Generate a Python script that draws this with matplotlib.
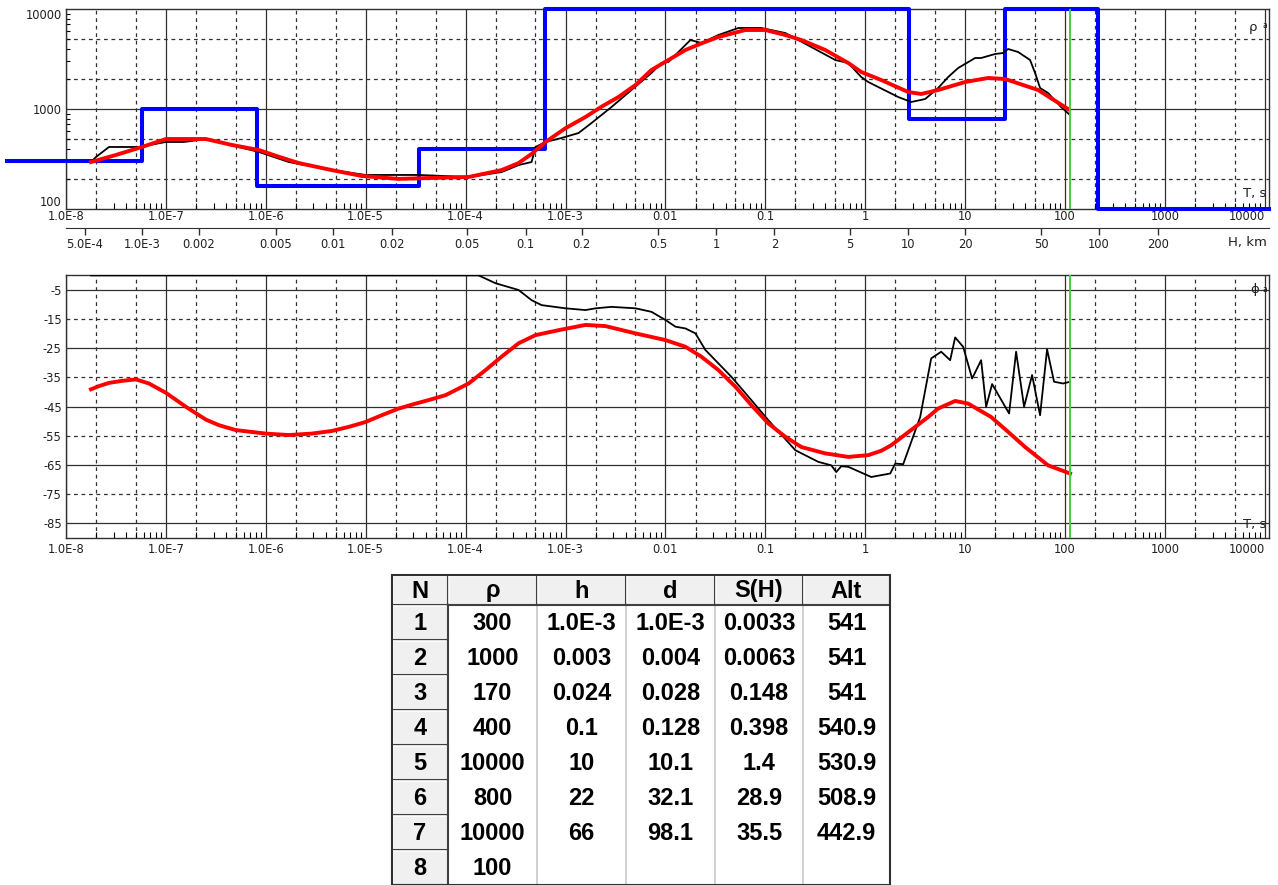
import numpy as np
import matplotlib.pyplot as plt
from matplotlib.patches import Rectangle
from matplotlib.ticker import LogLocator, NullFormatter, FixedLocator

# ---- layered model (table) ----
col_names = ['N', 'ρ', 'h', 'd', 'S(H)', 'Alt']
layer_n = ['1', '2', '3', '4', '5', '6', '7', '8']
layer_rho = ['300', '1000', '170', '400', '10000', '800', '10000', '100']
layer_h = ['1.0E-3', '0.003', '0.024', '0.1', '10', '22', '66', '']
layer_d = ['1.0E-3', '0.004', '0.028', '0.128', '10.1', '32.1', '98.1', '']
layer_s = ['0.0033', '0.0063', '0.148', '0.398', '1.4', '28.9', '35.5', '']
layer_alt = ['541', '541', '541', '540.9', '530.9', '508.9', '442.9', '']

# layer boundaries as they sit on the period axis (s)
bound_T = [5.75e-8, 8.1e-7, 3.4e-5, 6.3e-4, 2.75, 25.1, 214]
model_T_start = 10 ** -8.59
model_T_end = 1.1e4

# ---- apparent resistivity, observed (black) ----
obs_lgT = [-7.75, -7.70, -7.57, -7.27, -7.00, -6.82, -6.60, -6.07, -5.77, -5.34,
           -5.00, -4.47, -3.97, -3.64, -3.47, -3.34, -3.30, -3.20, -3.04, -2.87,
           -2.74, -2.54, -2.34, -2.14, -2.04, -1.97, -1.80, -1.75, -1.64, -1.47,
           -1.27, -1.04, -0.80, -0.30, -0.17, -0.04, 0.03, 0.33, 0.46, 0.60,
           0.73, 0.83, 0.93, 1.10, 1.16, 1.30, 1.38, 1.43, 1.53, 1.65,
           1.70, 1.75, 1.83, 1.96, 2.05]
obs_rho = [295, 331, 417, 417, 468, 468, 501, 372, 295, 245,
           219, 219, 209, 234, 275, 295, 417, 468, 513, 575,
           724, 1047, 1549, 2291, 2884, 2951, 4365, 4898, 4571, 5495,
           6457, 6457, 5754, 3090, 2884, 2089, 1862, 1318, 1175, 1259,
           1622, 2089, 2570, 3236, 3236, 3548, 3631, 3981, 3715, 3090,
           2291, 1622, 1445, 1047, 871]

# ---- apparent resistivity, model response (red) ----
fit_lgT = [-7.75, -7.50, -7.24, -7.00, -6.60, -6.34, -6.07, -5.87, -5.67, -5.34,
           -5.04, -4.67, -4.37, -3.97, -3.64, -3.47, -3.34, -3.20, -3.00, -2.80,
           -2.64, -2.47, -2.30, -2.14, -1.97, -1.80, -1.63, -1.47, -1.20, -1.00,
           -0.80, -0.64, -0.40, -0.17, -0.04, 0.16, 0.43, 0.56, 0.73, 1.00,
           1.23, 1.40, 1.73, 2.03]
fit_rho = [295, 347, 417, 501, 501, 437, 389, 333, 288, 245,
           214, 200, 204, 209, 245, 288, 355, 468, 643, 832,
           1054, 1318, 1738, 2455, 3090, 3890, 4571, 5248, 6166, 6166,
           5495, 4898, 3890, 2884, 2344, 1950, 1479, 1413, 1549, 1862,
           2042, 1995, 1549, 1000]

# ---- phase ----
obs_ph_lgT = [-7.75, -3.87, -3.70, -3.47, -3.34, -3.24, -3.00, -2.80, -2.70, -2.54,
              -2.30, -2.14, -2.00, -1.90, -1.80, -1.70, -1.60, -1.34, -1.14, -0.97,
              -0.70, -0.47, -0.34, -0.29, -0.24, -0.17, 0.06, 0.25, 0.30, 0.38,
              0.55, 0.66, 0.76, 0.85, 0.90, 0.98, 1.07, 1.16, 1.21, 1.27,
              1.44, 1.51, 1.59, 1.67, 1.75, 1.82, 1.89, 1.98, 2.05]
obs_phase = [0, 0, -2.7, -5.0, -8.5, -10.2, -11.3, -11.9, -11.3, -10.8,
             -11.3, -12.5, -15.3, -17.6, -18.2, -19.9, -25.6, -34.8, -42.8, -49.7,
             -60.0, -64.0, -65.2, -67.5, -65.5, -65.7, -69.2, -68.0, -64.6, -64.8,
             -48.6, -28.5, -26.2, -29.1, -21.3, -24.5, -35.4, -29.1, -45.1, -37.3,
             -47.4, -26.2, -45.1, -34.2, -48.0, -25.4, -36.5, -37.1, -36.5]
fit_ph_lgT = [-7.75, -7.67, -7.57, -7.44, -7.30, -7.17, -7.00, -6.80, -6.60, -6.47,
              -6.30, -6.00, -5.77, -5.54, -5.34, -5.17, -5.00, -4.84, -4.67, -4.50,
              -4.37, -4.20, -3.97, -3.80, -3.64, -3.47, -3.30, -3.07, -2.80, -2.60,
              -2.30, -2.00, -1.80, -1.64, -1.47, -1.30, -1.14, -0.97, -0.80, -0.64,
              -0.40, -0.17, 0.03, 0.16, 0.26, 0.50, 0.63, 0.73, 0.90, 1.03,
              1.26, 1.43, 1.60, 1.83, 2.05]
fit_phase = [-39.1, -38.0, -36.9, -36.2, -35.7, -37.1, -40.3, -45.1, -49.5, -51.4,
             -53.1, -54.3, -54.8, -54.3, -53.4, -52.0, -50.3, -48.0, -45.7, -44.0,
             -42.8, -41.1, -37.1, -32.5, -27.9, -23.3, -20.5, -18.8, -17.0, -17.4,
             -19.9, -22.2, -24.5, -27.9, -32.5, -38.2, -44.5, -50.8, -55.4, -58.9,
             -61.1, -62.3, -61.7, -60.2, -58.3, -52.0, -48.6, -45.7, -43.1, -44.0,
             -48.6, -53.7, -58.9, -65.2, -68.0]

marker_T = 112

# ---- axis labels ----
period_ticks = [10.0 ** e for e in range(-8, 5)]
period_labels = ['1.0E-8', '1.0E-7', '1.0E-6', '1.0E-5', '1.0E-4', '1.0E-3',
                 '0.01', '0.1', '1', '10', '100', '1000', '10000']
depth_lgT = [-7.81, -7.24, -6.67, -5.90, -5.33, -4.74, -3.99, -3.40, -2.84,
             -2.07, -1.49, -0.91, -0.15, 0.43, 1.00, 1.76, 2.34, 2.93]
depth_labels = ['5.0E-4', '1.0E-3', '0.002', '0.005', '0.01', '0.02', '0.05',
                '0.1', '0.2', '0.5', '1', '2', '5', '10', '20', '50', '100', '200']
rho_ticks = [100, 1000, 10000]
phase_ticks = [-5, -15, -25, -35, -45, -55, -65, -75, -85]

W, H = 1278, 885
fig = plt.figure(figsize=(W / 100, H / 100), dpi=100)


def px(x0, y0, x1, y1):
    return [x0 / W, 1 - y1 / H, (x1 - x0) / W, (y1 - y0) / H]


grid_c = '#303030'
dash = (0, (3, 3))
lab_c = '#202020'
tick_fs = 8.3


def period_axis(ax):
    ax.set_xscale('log')
    ax.set_xlim(1e-8, 1.1e4)
    for e in range(-8, 5):
        ax.axvline(10.0 ** e, color=grid_c, lw=0.9, zorder=1)
        for m in (2, 5):
            if m * 10.0 ** e < 1.1e4:
                ax.axvline(m * 10.0 ** e, color=grid_c, lw=0.9, ls=dash, zorder=1)
    ax.set_xticks(period_ticks)
    ax.set_xticklabels(period_labels)
    ax.get_xticklabels()[-1].set_ha('right')
    ax.xaxis.set_minor_locator(LogLocator(base=10, subs=np.arange(2, 10), numticks=30))
    ax.xaxis.set_minor_formatter(NullFormatter())
    ax.tick_params(axis='x', which='major', length=0, labelsize=tick_fs, labelcolor=lab_c)
    ax.tick_params(axis='x', which='minor', direction='in', length=4, width=0.8)
    ax.tick_params(axis='y', which='major', length=0, labelsize=tick_fs, labelcolor=lab_c,
                   pad=3)
    for s in ax.spines.values():
        s.set_color(grid_c)
        s.set_linewidth(1.0)


# ---- top: apparent resistivity ----
ax1 = fig.add_axes(px(66, 9, 1269, 209))
period_axis(ax1)
ax1.set_yscale('log')
ax1.set_ylim(100, 10000)
ax1.axhline(1000, color=grid_c, lw=0.9, zorder=1)
for v in (200, 500, 2000, 5000):
    ax1.axhline(v, color=grid_c, lw=0.9, ls=dash, zorder=1)
ax1.set_yticks(rho_ticks)
ax1.set_yticklabels([str(v) for v in rho_ticks])
ax1.yaxis.set_minor_locator(LogLocator(base=10, subs=np.arange(2, 10), numticks=30))
ax1.yaxis.set_minor_formatter(NullFormatter())
ax1.tick_params(axis='y', which='minor', direction='in', length=3, width=0.8)
ax1.tick_params(axis='x', which='major', pad=1)
ylabs = ax1.get_yticklabels()
ylabs[0].set_va('bottom')
ylabs[-1].set_va('top')

step_T = [model_T_start] + bound_T + [model_T_end]
step_rho = [float(v) for v in layer_rho] + [float(layer_rho[-1])]
ax1.step(step_T, step_rho, where='post', color='#0000ff', lw=2.9, zorder=4, clip_on=False)
ax1.plot(10 ** np.array(obs_lgT), obs_rho, color='black', lw=1.3, zorder=5)
ax1.plot(10 ** np.array(fit_lgT), fit_rho, color='#ff0000', lw=2.8, zorder=6,
         solid_joinstyle='round')
ax1.axvline(marker_T, color='#40d040', lw=1.4, zorder=7)
ax1.text(0.9905, 0.91, 'ρ', transform=ax1.transAxes, fontsize=9.5, color=lab_c,
         ha='right', va='center')
ax1.text(0.9985, 0.915, 'a', transform=ax1.transAxes, fontsize=5.5, color=lab_c,
         ha='right', va='center')
ax1.text(0.998, 0.08, 'T, s', transform=ax1.transAxes, fontsize=9.5, color=lab_c,
         ha='right', va='center')

# ---- depth axis ----
axh = fig.add_axes(px(66, 227, 1269, 228))
axh.set_xscale('log')
axh.set_xlim(1e-8, 1.1e4)
axh.patch.set_visible(False)
for k in ('top', 'left', 'right'):
    axh.spines[k].set_visible(False)
axh.spines['bottom'].set_color(grid_c)
axh.set_yticks([])
axh.xaxis.set_major_locator(FixedLocator(10 ** np.array(depth_lgT)))
axh.xaxis.set_minor_locator(FixedLocator([]))
axh.set_xticklabels(depth_labels)
axh.tick_params(axis='x', which='major', direction='out', length=5, width=1,
                labelsize=tick_fs, labelcolor=lab_c, pad=2, color=grid_c)
axh.text(0.998, -15, 'H, km', transform=axh.transAxes, fontsize=9.5,
         color=lab_c, ha='right', va='center')

# ---- bottom: phase ----
ax2 = fig.add_axes(px(66, 275.4, 1269, 537.6))
period_axis(ax2)
ax2.set_ylim(-90, 0)
for v in (-5, -25, -45, -65, -85):
    ax2.axhline(v, color=grid_c, lw=0.9, zorder=1)
for v in (-15, -35, -55, -75):
    ax2.axhline(v, color=grid_c, lw=0.9, ls=dash, zorder=1)
ax2.set_yticks(phase_ticks)
ax2.set_yticklabels([str(v) for v in phase_ticks])
ax2.tick_params(axis='x', which='major', pad=4)
ax2.plot(10 ** np.array(obs_ph_lgT), obs_phase, color='black', lw=1.3, zorder=5)
ax2.plot(10 ** np.array(fit_ph_lgT), fit_phase, color='#ff0000', lw=2.8, zorder=6,
         solid_joinstyle='round')
ax2.axvline(marker_T, color='#40d040', lw=1.4, zorder=7)
ax2.text(0.9915, 0.945, 'ϕ', transform=ax2.transAxes, fontsize=9.5, color=lab_c,
         ha='right', va='center')
ax2.text(0.9985, 0.945, 'a', transform=ax2.transAxes, fontsize=5.5, color=lab_c,
         ha='right', va='center')
ax2.text(0.998, 0.05, 'T, s', transform=ax2.transAxes, fontsize=9.5, color=lab_c,
         ha='right', va='center')

# ---- table ----
axt = fig.add_axes(px(392, 575, 890, 885))
axt.set_xlim(0, 498)
axt.set_ylim(310, 0)
axt.axis('off')
col_edges = [0, 56, 145, 234, 323, 411, 498]
head_h = 30
row_h = 35
font = dict(family=['Liberation Sans', 'DejaVu Sans'], weight='bold', fontsize=17,
            color='black')


def button(x0, y0, w, h):
    axt.add_patch(Rectangle((x0, y0), w, h, facecolor='#f0f0f0', edgecolor='none',
                            zorder=1))
    axt.plot([x0 + 1, x0 + w - 2], [y0 + 1, y0 + 1], color='white', lw=1.2, zorder=2)
    axt.plot([x0 + 1, x0 + 1], [y0 + 1, y0 + h - 2], color='white', lw=1.2, zorder=2)
    axt.plot([x0, x0 + w, x0 + w], [y0 + h, y0 + h, y0], color='#404040', lw=1.5,
             zorder=2)


for j in range(6):
    x0 = col_edges[j]
    w = col_edges[j + 1] - x0
    button(x0, 0, w, head_h)
    axt.text(x0 + w / 2, head_h / 2 + 1, col_names[j], ha='center', va='center', **font)

columns = [layer_rho, layer_h, layer_d, layer_s, layer_alt]
for i in range(len(layer_n)):
    y0 = head_h + i * row_h
    button(0, y0, col_edges[1], row_h)
    axt.text(col_edges[1] / 2, y0 + row_h / 2 + 1, layer_n[i], ha='center',
             va='center', **font)
    for j, col in enumerate(columns):
        cx = (col_edges[j + 1] + col_edges[j + 2]) / 2
        axt.text(cx, y0 + row_h / 2 + 1, col[i], ha='center', va='center', **font)

for x in col_edges[2:-1]:
    axt.plot([x, x], [head_h, 310], color='#c8c8c8', lw=1.2, zorder=0)
axt.add_patch(Rectangle((0, 0), 498, 310, facecolor='none', edgecolor='#303030',
                        lw=1.5, zorder=3, clip_on=False))

fig.savefig('out.png', dpi=100)
